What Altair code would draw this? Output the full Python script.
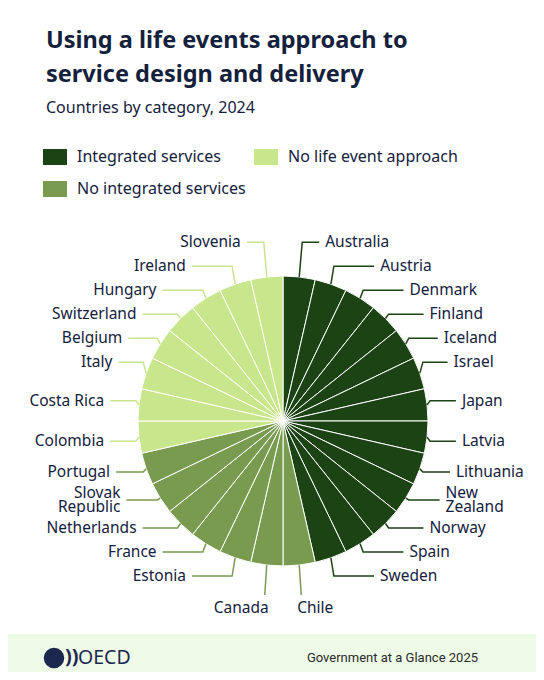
import math
import altair as alt
import pandas as pd

# ---------------- data ----------------
integrated = ["Australia", "Austria", "Denmark", "Finland", "Iceland", "Israel", "Japan",
              "Latvia", "Lithuania", "New Zealand", "Norway", "Spain", "Sweden"]
no_integrated = ["Chile", "Canada", "Estonia", "France", "Netherlands", "Slovak Republic", "Portugal"]
no_life_event = ["Colombia", "Costa Rica", "Italy", "Belgium", "Switzerland", "Hungary", "Ireland", "Slovenia"]

CAT_INT = "Integrated services"
CAT_NOINT = "No integrated services"
CAT_NOLIFE = "No life event approach"
legend_order = [CAT_INT, CAT_NOLIFE, CAT_NOINT]
palette = {CAT_INT: "#1b4314", CAT_NOINT: "#789b50", CAT_NOLIFE: "#c8e68c"}
wrapped = {"New Zealand": ["New", "Zealand"], "Slovak Republic": ["Slovak", "Republic"]}

title_lines = ["Using a life events approach to", "service design and delivery"]
subtitle = "Countries by category, 2024"
source_note = "Government at a Glance 2025"
brand = "OECD"

# ---------------- style / layout ----------------
TEXT = "#14213d"
FONT = "Noto Sans"
TOP = 200                           # space above the plot area
W, H = 528, 464
CX, CY, R = 275, 421 - 8 - TOP, 145
LY = 180                            # radius used for the label target height
LX, LV = 180, 184                   # ellipse on which labels sit
GAP, GAP2, GAP_END = 24, 28, 32
Y_MAX = CY + 187
LINE_H = 14
BAND_Y = 634 - 8 - TOP
FOOT_Y = 658 - 8 - TOP

# ---------------- derived tables ----------------
rows = []
for cat, names in [(CAT_INT, integrated), (CAT_NOINT, no_integrated), (CAT_NOLIFE, no_life_event)]:
    for nm in names:
        rows.append({"country": nm, "category": cat, "idx": len(rows), "value": 1})
slices = pd.DataFrame(rows)
n = len(rows)
step = 2 * math.pi / n

info = []
for r in rows:
    a = (r["idx"] + 0.5) * step
    side = 1 if a < math.pi else -1
    px, py = CX + R * math.sin(a), CY - R * math.cos(a)
    lines = wrapped.get(r["country"], [r["country"]])
    info.append(dict(country=r["country"], category=r["category"], a=a, side=side,
                     px=px, py=py, ty=CY - LY * math.cos(a), lines=lines))

for s in (1, -1):
    grp = sorted([d for d in info if d["side"] == s], key=lambda d: d["ty"])
    m = len(grp)

    def gap(j):
        if j == m - 1:
            return GAP_END
        if len(grp[j]["lines"]) > 1 or len(grp[j - 1]["lines"]) > 1:
            return GAP2
        return GAP

    ys = [d["ty"] for d in grp]
    for j in range(1, m):
        ys[j] = max(ys[j], ys[j - 1] + gap(j))
    ys[-1] = min(ys[-1], Y_MAX)
    for j in range(m - 2, -1, -1):
        ys[j] = min(ys[j], ys[j + 1] - gap(j + 1))
    for j, d in enumerate(grp):
        d["ly"] = ys[j]
        d["last"] = j == m - 1

lab_rows, line_rows = [], []
for d in info:
    s, ly = d["side"], d["ly"]
    dy = ly - CY
    dx = LX * math.sqrt(max(0.0, 1 - (dy / LV) ** 2))
    pts = [(d["px"], d["py"])]
    if d["last"] and dx < abs(d["px"] - CX) + 14:
        ex, ey = d["px"] + s * 2, ly - 13
        pts.append((ex, ey))
        tx = ex - s * 4
    else:
        ex = d["px"] + s * 3
        pts.append((ex, ly))
        tx = CX + s * dx
        if s * (tx - ex) < 14:
            tx = ex + s * 14
        pts.append((tx - s * 6, ly))
    for k, (x, y) in enumerate(pts):
        line_rows.append({"country": d["country"], "pt": k, "x": x, "y": y,
                          "lc": palette[d["category"]]})
    nl = len(d["lines"])
    lab_rows.append({"country": d["country"], "label": "\n".join(d["lines"]), "x": tx,
                     "y": ly - (nl - 1) / 2 * LINE_H,
                     "side": "right" if s > 0 else "left"})

labels = pd.DataFrame(lab_rows)
leaders = pd.DataFrame(line_rows)
one = pd.DataFrame({"k": [0]})

xs = alt.Scale(domain=[0, W], range=[0, W], nice=False, zero=False)
ys_ = alt.Scale(domain=[0, H], range=[0, H], nice=False, zero=False)
X = alt.X("x:Q", scale=xs, axis=None)
Y = alt.Y("y:Q", scale=ys_, axis=None)

legend = alt.Legend(
    orient="none", legendX=39, legendY=149 - 8 - TOP, direction="horizontal", columns=2, title=None,
    symbolType="M-1.5,-1H1.5V1H-1.5Z", symbolSize=256, symbolStrokeWidth=0, symbolOpacity=1,
    labelFont=FONT, labelFontSize=16, labelColor=TEXT, labelOffset=14, labelLimit=400,
    columnPadding=8, rowPadding=16,
)

band = alt.Chart(one).mark_rect(color="#eefbe6").encode(
    x=alt.value(0), x2=alt.value(W), y=alt.value(BAND_Y), y2=alt.value(H))

pie = alt.Chart(slices).mark_arc(radius=R, stroke="#ffffff", strokeWidth=1).encode(
    theta=alt.Theta("value:Q", stack=True),
    color=alt.Color("category:N", scale=alt.Scale(domain=legend_order,
                                                  range=[palette[c] for c in legend_order]),
                    legend=legend),
    order=alt.Order("idx:Q"),
    x=alt.value(CX), y=alt.value(CY),
)

lines = alt.Chart(leaders).mark_line(strokeWidth=1.5).encode(
    x=X, y=Y, detail="country:N", order="pt:Q", color=alt.Color("lc:N", scale=None))

txt_r = alt.Chart(labels).transform_filter(alt.datum.side == "right").mark_text(
    align="left", baseline="middle", font=FONT, fontSize=15.5, color=TEXT,
    lineBreak="\n", lineHeight=LINE_H).encode(x=X, y=Y, text="label:N")
txt_l = alt.Chart(labels).transform_filter(alt.datum.side == "left").mark_text(
    align="right", baseline="middle", font=FONT, fontSize=15.5, color=TEXT,
    lineBreak="\n", lineHeight=LINE_H).encode(x=X, y=Y, text="label:N")

globe = alt.Chart(one).mark_point(filled=True, shape="circle", size=420, color="#1d2850", opacity=1).encode(
    x=alt.value(46), y=alt.value(FOOT_Y))
arcs = alt.Chart(one).mark_text(text="))", align="left", baseline="middle", font=FONT,
                                fontSize=20, fontWeight="bold", color="#1d2850").encode(
    x=alt.value(57), y=alt.value(FOOT_Y - 1))
oecd = alt.Chart(one).mark_text(text=brand, align="left", baseline="middle", font=FONT,
                                fontSize=19.5, color="#1d2850").encode(
    x=alt.value(70), y=alt.value(FOOT_Y))
note = alt.Chart(one).mark_text(text=source_note, align="right", baseline="middle", font="Roboto",
                                fontSize=13, color="#2a2a2a").encode(
    x=alt.value(470), y=alt.value(FOOT_Y))

chart = alt.layer(band, pie, lines, txt_r, txt_l, globe, arcs, oecd, note).properties(
    width=W, height=H,
    autosize=alt.AutoSizeParams(type="none"),
    padding={"left": 0, "top": TOP, "right": 0, "bottom": 0},
    title=alt.TitleParams(
        text=title_lines, subtitle=subtitle, anchor="start", frame="group", dx=38,
        font=FONT, fontSize=23.5, fontWeight="bold", color=TEXT, lineHeight=34,
        subtitleFont=FONT, subtitleFontSize=16, subtitleColor=TEXT, subtitlePadding=14,
        offset=33,
    ),
).configure_view(stroke=None)

chart.save("out.html", embed_options={"renderer": "svg", "actions": False})
